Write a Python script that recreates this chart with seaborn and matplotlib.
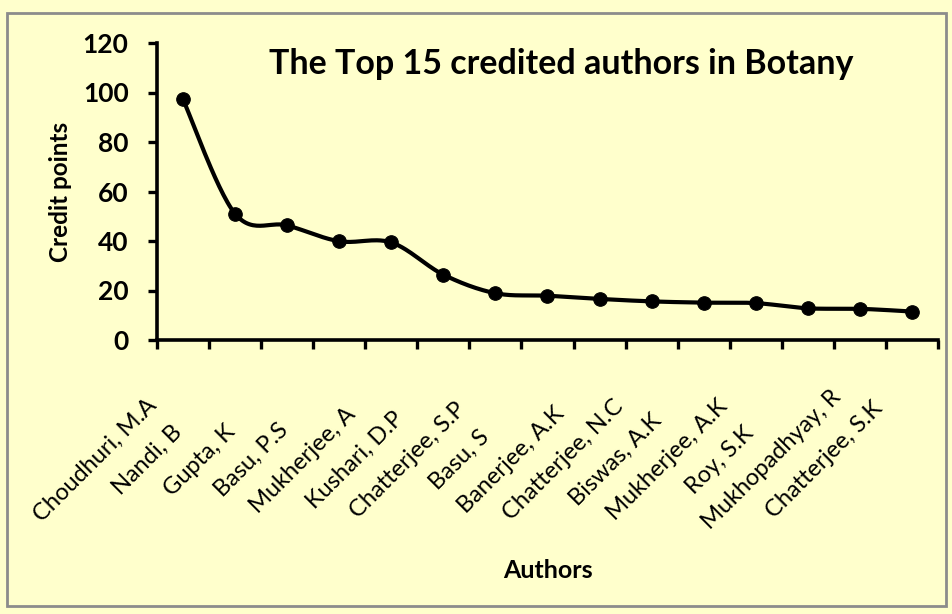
import numpy as np
import matplotlib
matplotlib.use("Agg")
import matplotlib.pyplot as plt
import matplotlib.transforms as mtransforms
from matplotlib.patches import Rectangle
import seaborn as sns

authors = ["Choudhuri, M.A", "Nandi, B", "Gupta, K", "Basu, P.S", "Mukherjee, A",
           "Kushari, D.P", "Chatterjee, S.P", "Basu, S", "Banerjee, A.K",
           "Chatterjee, N.C", "Biswas, A.K", "Mukherjee, A.K", "Roy, S.K",
           "Mukhopadhyay, R", "Chatterjee, S.K"]
credits = [97.2, 51.0, 46.3, 39.9, 39.4, 26.4, 18.9, 17.9, 16.6, 15.6, 15.1, 14.9,
           12.8, 12.6, 11.5]

bg = "#FFFFCC"


def smooth_curve(y, n=30):
    # Catmull-Rom style bezier like the spreadsheet "smoothed line"
    x = np.arange(len(y), dtype=float)
    y = np.asarray(y, dtype=float)
    px = np.concatenate([[x[0]], x, [x[-1]]])
    py = np.concatenate([[y[0]], y, [y[-1]]])
    xs, ys = [], []
    t = np.linspace(0, 1, n)
    for i in range(1, len(px) - 2):
        p0 = np.array([px[i], py[i]])
        p3 = np.array([px[i + 1], py[i + 1]])
        p1 = p0 + (np.array([px[i + 1], py[i + 1]]) - np.array([px[i - 1], py[i - 1]])) / 6
        p2 = p3 - (np.array([px[i + 2], py[i + 2]]) - np.array([px[i], py[i]])) / 6
        b = ((1 - t) ** 3)[:, None] * p0 + (3 * (1 - t) ** 2 * t)[:, None] * p1 \
            + (3 * (1 - t) * t ** 2)[:, None] * p2 + (t ** 3)[:, None] * p3
        xs.extend(b[:, 0])
        ys.extend(b[:, 1])
    return np.array(xs), np.array(ys)


sns.set_style("white")
plt.rcParams['font.family'] = ['Lato', 'DejaVu Sans']
plt.rcParams.update({"text.color": "black", "axes.labelcolor": "black",
                     "xtick.color": "black", "ytick.color": "black"})

fig = plt.figure(figsize=(9.53, 6.14), dpi=100, facecolor=bg)
W, H = 953, 614
fig.patches.append(Rectangle((7 / W, 1 - 606 / H), 939 / W, 593 / H, transform=fig.transFigure,
                             fill=False, edgecolor="#8C8C8C", linewidth=2))

ax = fig.add_axes([157 / W, 1 - 340 / H, 781 / W, 297 / H])
ax.set_facecolor(bg)

pos = np.arange(len(authors))
sx, sy = smooth_curve(credits)
sns.lineplot(x=sx, y=sy, sort=False, color="black", linewidth=3.0, ax=ax)
sns.scatterplot(x=pos, y=credits, color="black", s=95, edgecolor="black", zorder=3, ax=ax)

ax.set_xlim(-0.5, len(authors) - 0.5)
ax.set_ylim(0, 120)
ax.set_yticks(range(0, 121, 20))
ax.set_yticklabels([str(v) for v in range(0, 121, 20)], fontsize=19, fontweight="bold")
ax.set_xticks(np.arange(-0.5, len(authors), 1))
ax.set_xticklabels([])
ax.tick_params(axis="both", direction="out", length=6.5, width=2.4, color="black",
               left=True, bottom=True)
ax.tick_params(axis="y", pad=14)
for side in ["top", "right"]:
    ax.spines[side].set_visible(False)
for side in ["left", "bottom"]:
    ax.spines[side].set_linewidth(2.6)
    ax.spines[side].set_color("black")

# rotated author labels, centred below each category
off = mtransforms.ScaledTranslation(-0.88, -1.20, fig.dpi_scale_trans)
for i, name in enumerate(authors):
    ax.text(i, 0, name, transform=ax.get_xaxis_transform() + off, rotation=45,
            ha="center", va="center", fontsize=17)

ax.set_title("The Top 15 credited authors in Botany", fontsize=24.5, fontweight="bold",
             x=0.518, y=0.9, va="center")
ax.set_ylabel("Credit points", fontsize=17.5, fontweight="bold", va="center")
ax.yaxis.set_label_coords(-0.124, 0.497)
fig.text(548 / W, 1 - 571 / H, "Authors", fontsize=18, fontweight="bold",
         ha="center", va="center")

fig.savefig("out.png", dpi=100, facecolor=bg)
